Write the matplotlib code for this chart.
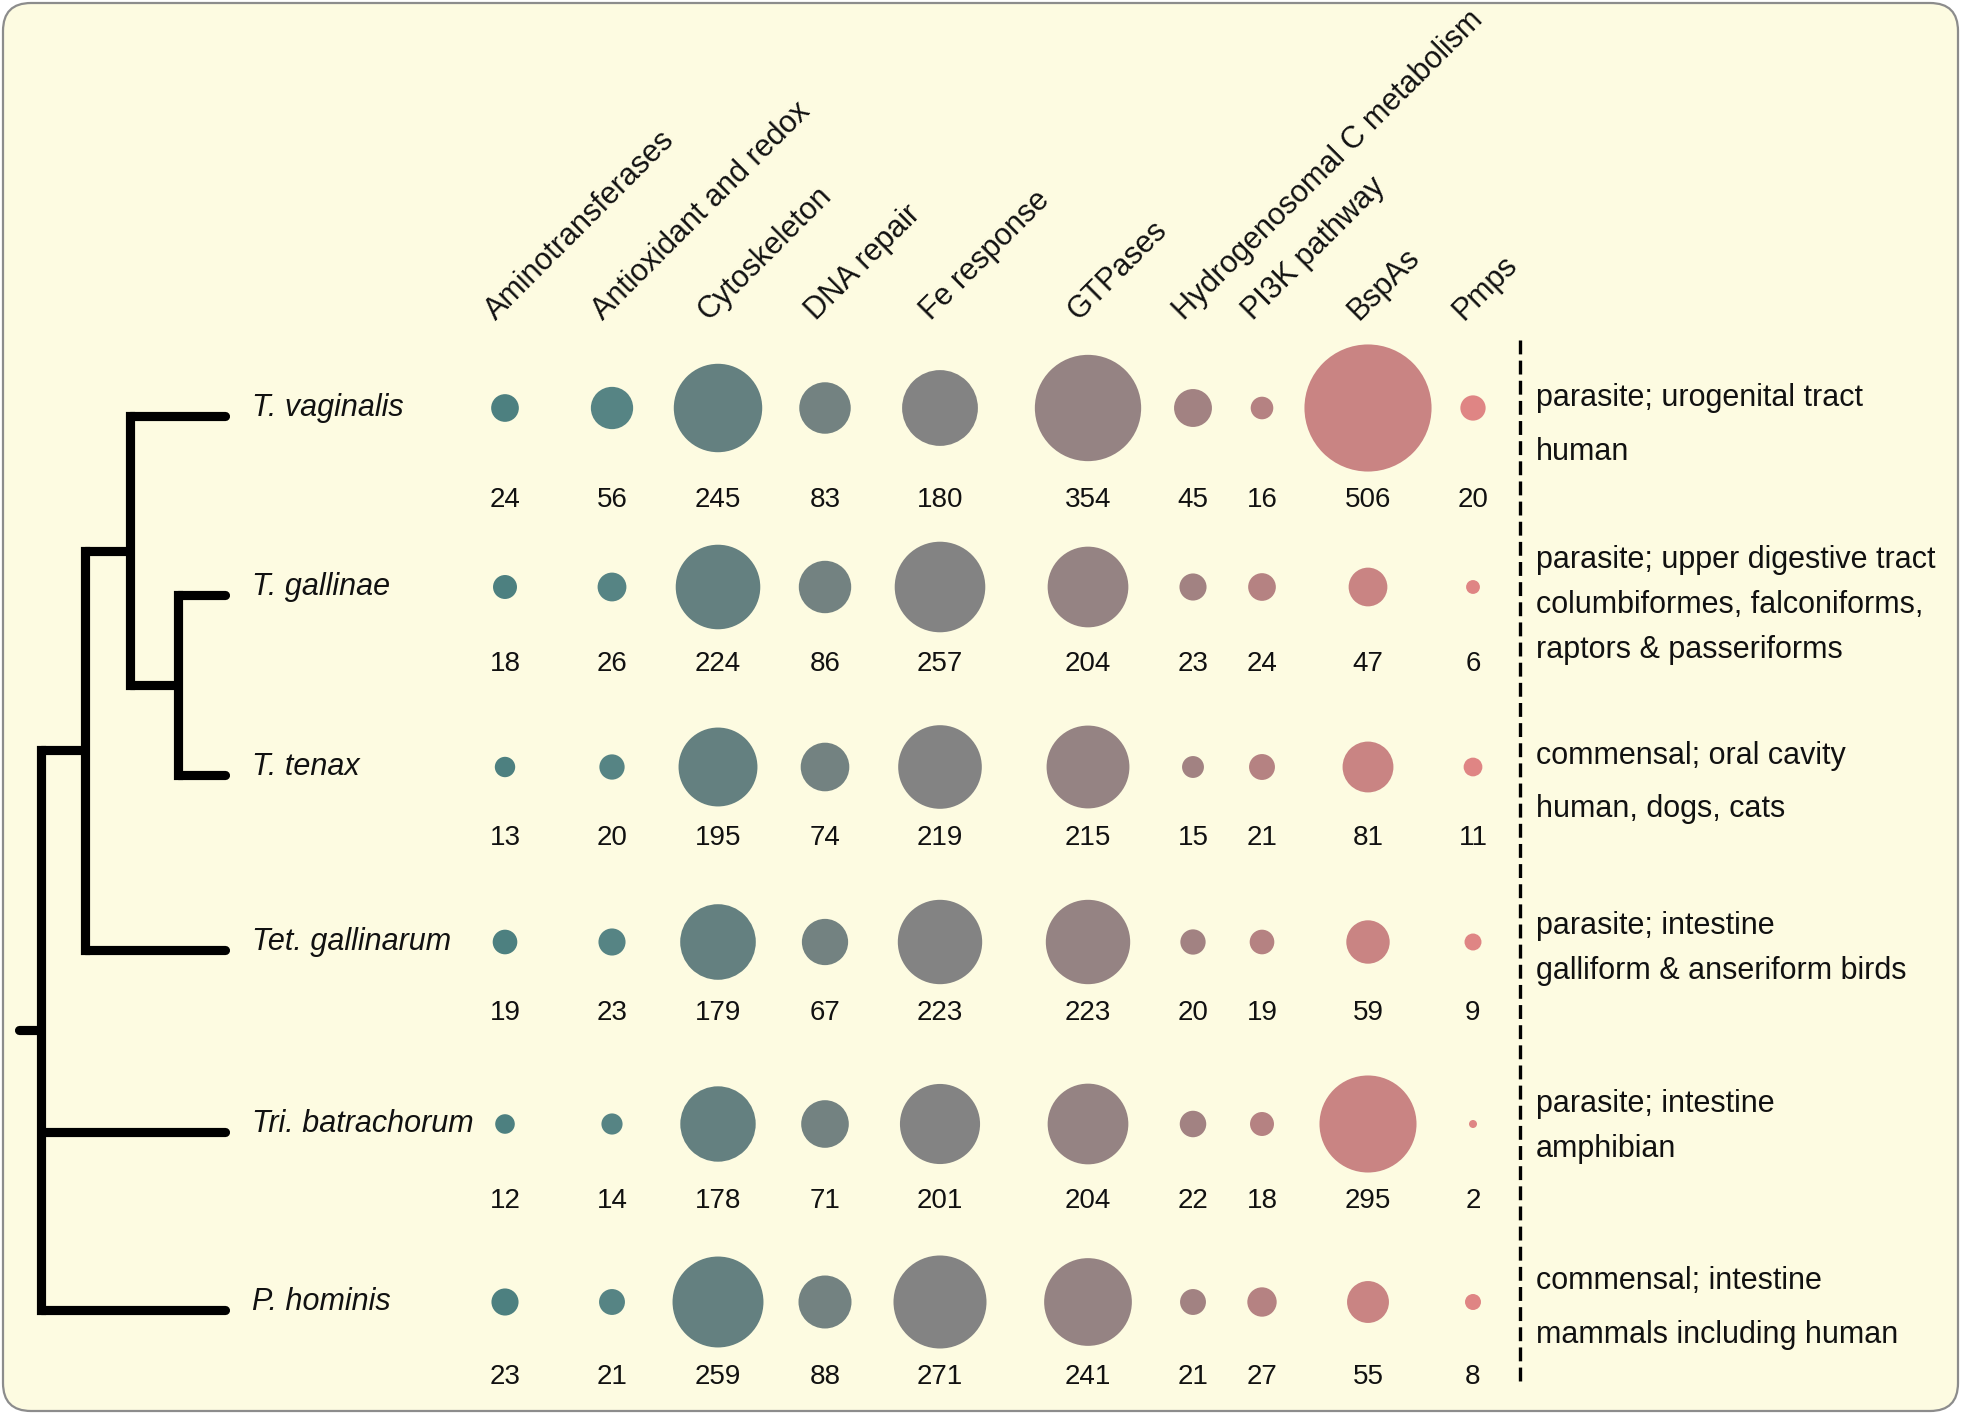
"""
Bubble chart of gene family counts across trichomonad species, with a
cladogram on the left and host / habitat notes on the right.
"""

import numpy as np
import matplotlib.pyplot as plt
from matplotlib.patches import Circle, FancyBboxPatch

plt.rcParams["font.family"] = ["Liberation Sans", "DejaVu Sans"]
plt.rcParams["lines.scale_dashes"] = False

# ---- data -------------------------------------------------------------
categories = [
    "Aminotransferases", "Antioxidant and redox", "Cytoskeleton", "DNA repair",
    "Fe response", "GTPases", "Hydrogenosomal C metabolism", "PI3K pathway",
    "BspAs", "Pmps",
]
species = [
    "T. vaginalis", "T. gallinae", "T. tenax",
    "Tet. gallinarum", "Tri. batrachorum", "P. hominis",
]
counts_vaginalis = [24, 56, 245, 83, 180, 354, 45, 16, 506, 20]
counts_gallinae = [18, 26, 224, 86, 257, 204, 23, 24, 47, 6]
counts_tenax = [13, 20, 195, 74, 219, 215, 15, 21, 81, 11]
counts_tetratrichomonas = [19, 23, 179, 67, 223, 223, 20, 19, 59, 9]
counts_tritrichomonas = [12, 14, 178, 71, 201, 204, 22, 18, 295, 2]
counts_pentatrichomonas = [23, 21, 259, 88, 271, 241, 21, 27, 55, 8]
counts = [counts_vaginalis, counts_gallinae, counts_tenax,
          counts_tetratrichomonas, counts_tritrichomonas, counts_pentatrichomonas]

habitat = [
    ["parasite; urogenital tract", "human"],
    ["parasite; upper digestive tract", "columbiformes, falconiforms,",
     "raptors & passeriforms"],
    ["commensal; oral cavity", "human, dogs, cats"],
    ["parasite; intestine", "galliform & anseriform birds"],
    ["parasite; intestine", "amphibian"],
    ["commensal; intestine", "mammals including human"],
]

# cladogram topology, leaves are indices into `species`
tree = (((0, (1, 2)), 3), 4, 5)

# ---- layout (pixels) --------------------------------------------------
W, H = 1961, 1415
col_x = [505, 612, 718, 825, 940, 1088, 1193, 1262, 1368, 1473]
row_y = [408, 587, 767, 942, 1124, 1302]
num_y = [500, 664, 838, 1013, 1201, 1377]
habitat_y = [[398, 452], [560, 605, 650], [756, 809], [926, 971],
             [1104, 1149], [1281, 1335]]
col_colors = ["#4d8080", "#568484", "#648080", "#738281", "#838383",
              "#958383", "#a28282", "#b58282", "#c98483", "#df8584"]
tree_levels = [41, 85, 130, 178]
leaf_end = 225
root_start = 19
tree_lw = 6.6
bubble_scale = 5.65 / 2  # radius in px per sqrt(count)
fs = 22
fs_num = 20

fig = plt.figure(figsize=(W / 100, H / 100), dpi=100, facecolor="white")
ax = fig.add_axes([0, 0, 1, 1])
ax.set_xlim(0, W)
ax.set_ylim(H, 0)
ax.set_aspect("equal")
ax.axis("off")

panel = FancyBboxPatch((3, 3), W - 6, H - 7,
                       boxstyle="round,pad=0,rounding_size=28",
                       facecolor="#fdfbe1", edgecolor="#8c8c8c", lw=1.6)
ax.add_patch(panel)

# column headers
for x, name in zip(col_x, categories):
    ax.text(x - 9, 321, name, rotation=45, rotation_mode="anchor",
            ha="left", va="baseline", fontsize=fs, color="#111111")

# bubbles and counts
for i, row in enumerate(counts):
    for j, v in enumerate(row):
        ax.add_patch(Circle((col_x[j], row_y[i]), bubble_scale * np.sqrt(v),
                            facecolor=col_colors[j], edgecolor="none"))
        ax.text(col_x[j], num_y[i], str(v), ha="center", va="center",
                fontsize=fs_num, color="#111111")

# species names
for i, name in enumerate(species):
    ax.text(252, row_y[i], name, ha="left", va="center", fontsize=fs,
            style="italic", color="#111111")

# cladogram
leaf_y = [y + 8 for y in row_y]


def draw_node(node, depth):
    """Draw a subtree; return (x, y) of its node."""
    if isinstance(node, int):
        return leaf_end, leaf_y[node]
    x = tree_levels[depth]
    child_pos = [draw_node(c, depth + 1) for c in node]
    ys = [p[1] for p in child_pos]
    ax.plot([x, x], [min(ys), max(ys)], color="black", lw=tree_lw,
            solid_capstyle="projecting", zorder=3)
    for cx, cy in child_pos:
        ax.plot([x, cx], [cy, cy], color="black", lw=tree_lw,
                solid_capstyle="round", zorder=3)
    return x, (min(ys) + max(ys)) / 2


rx, ry = draw_node(tree, 0)
ax.plot([root_start, rx], [ry, ry], color="black", lw=tree_lw,
        solid_capstyle="round", zorder=3)

# habitat notes
ax.plot([1520, 1520], [340, 1385], color="black", lw=2.4,
        dashes=(10, 4.5), zorder=3)
for lines, ys in zip(habitat, habitat_y):
    for text, y in zip(lines, ys):
        ax.text(1536, y, text, ha="left", va="center", fontsize=fs,
                color="#111111")

fig.savefig("out.png", dpi=100, facecolor="white")
plt.close(fig)
